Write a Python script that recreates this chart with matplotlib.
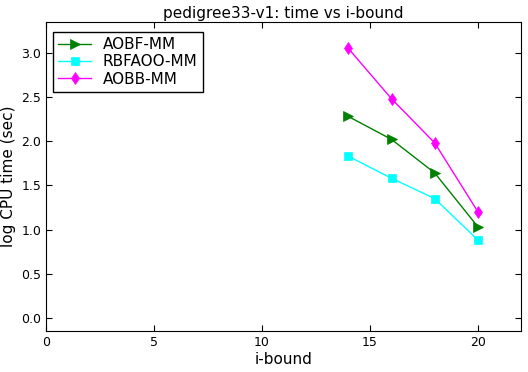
import matplotlib
matplotlib.use("Agg")
import matplotlib.pyplot as plt

ibounds = [14, 16, 18, 20]
aobf_mm = [2.28, 2.02, 1.64, 1.03]
rbfaoo_mm = [1.83, 1.58, 1.35, 0.88]
aobb_mm = [3.05, 2.48, 1.98, 1.20]

fig = plt.figure(figsize=(5.28, 3.72), dpi=100)
ax = fig.add_axes([0.087, 0.110, 0.900, 0.831])

ax.plot(ibounds, aobf_mm, color="green", lw=1, marker=">", markersize=6.5,
        markeredgewidth=0.5, label="AOBF-MM")
ax.plot(ibounds, rbfaoo_mm, color="cyan", lw=1, marker="s", markersize=6,
        markeredgewidth=0.5, label="RBFAOO-MM")
ax.plot(ibounds, aobb_mm, color="magenta", lw=1, marker="d", markersize=6.5,
        markeredgewidth=0.5, label="AOBB-MM")

ax.set_xlim(0, 22)
ax.set_ylim(-0.15, 3.35)
ax.set_xticks([0, 5, 10, 15, 20])
ax.set_yticks([0.0, 0.5, 1.0, 1.5, 2.0, 2.5, 3.0])
ax.set_yticklabels([f"{v:.1f}" for v in ax.get_yticks()])
ax.tick_params(direction="in", top=True, right=True, labelsize=9, length=4)

ax.set_title("pedigree33-v1: time vs i-bound", fontsize=11, pad=3)
ax.set_xlabel("i-bound", fontsize=11, labelpad=2)
ax.set_ylabel("log CPU time (sec)", fontsize=11, labelpad=4)

leg = ax.legend(loc="upper left", bbox_to_anchor=(0.015, 0.968), borderaxespad=0,
                fontsize=11, fancybox=False, framealpha=1, edgecolor="black",
                handlelength=2.15, borderpad=0.35, labelspacing=0.15,
                handletextpad=0.75)
leg.get_frame().set_linewidth(1.0)

fig.savefig("out.png", dpi=100)
